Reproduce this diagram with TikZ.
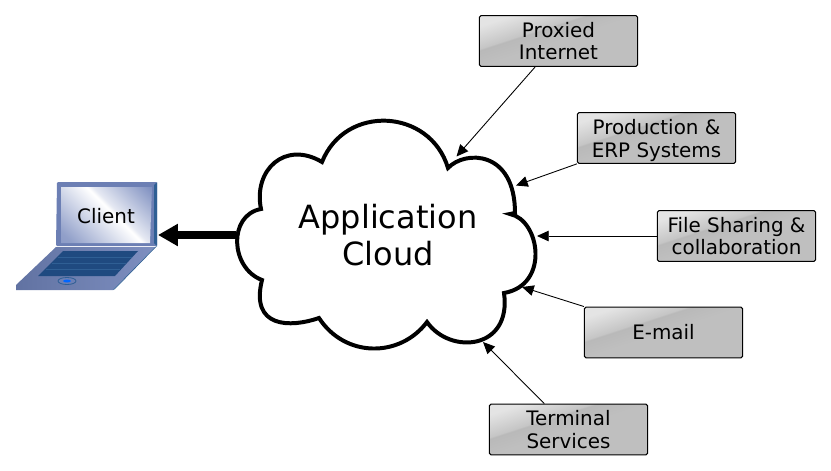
\documentclass[tikz,border=0pt]{standalone}
\usepackage{fontspec}
\setmainfont{DejaVu Sans}
\usetikzlibrary{arrows.meta}

\definecolor{boxgray}{HTML}{BFBFBF}
\definecolor{boxdark}{HTML}{B9B9B9}
\definecolor{boxlight}{HTML}{E4E4E4}
\definecolor{lapblue}{HTML}{7E8FC0}
\definecolor{lapbody}{HTML}{6C7FB4}
\definecolor{lapdark}{HTML}{2F5F94}
\definecolor{lapkeys}{HTML}{1F4A80}
\pgfdeclareverticalshading{boxshade}{100bp}{color(0bp)=(boxgray); color(50bp)=(boxgray); color(60bp)=(boxdark); color(61bp)=(boxgray!90!white); color(75bp)=(boxlight); color(100bp)=(boxlight)}
\pgfdeclareverticalshading{screenshade}{100bp}{color(0bp)=(lapblue); color(20bp)=(lapblue!85); color(54bp)=(white); color(57bp)=(lapblue!20); color(85bp)=(lapblue); color(100bp)=(lapblue)}

\tikzset{
  service/.style={draw=black,line width=0.85pt,rounded corners=1.5pt,minimum width=135pt,
    minimum height=43.5pt,inner sep=0pt,align=center,font=\fontsize{17pt}{19.5pt}\selectfont,
    shading=boxshade,shading angle=18},
  feed/.style={draw=black,line width=0.75pt,-{Triangle[length=10pt,width=9pt]}}
}

\begin{document}
\begin{tikzpicture}[x=0.03cm,y=-0.03cm]
  \useasboundingbox (0,0) rectangle (831,471);
  % cloud
  \draw[line width=3.4pt,fill=white,line join=miter]
    (261,209) .. controls (253,170) and (285,140) .. (322,162)
    .. controls (345,104) and (430,108) .. (448,168)
    .. controls (465,150) and (515,150) .. (515,213) -- (510,214)
    .. controls (540,220) and (550,285) .. (504,293)
    .. controls (512,350) and (450,355) .. (427,322)
    .. controls (400,358) and (345,358) .. (319,318)
    .. controls (290,328) and (250,328) .. (262,280)
    .. controls (230,268) and (228,215) .. (261,209) -- cycle;
  \node[align=center,font=\fontsize{27.3pt}{32pt}\selectfont] (appcloud) at (388,235) {Application\\Cloud};

  % laptop
  \fill[lapbody,rounded corners=1pt] (56,246) -- (57,182) -- (157,182) -- (157,246) -- cycle;
  \fill[lapdark] (154,185) -- (157,182) -- (157,246) -- (154,243) -- cycle;
  \shade[shading=screenshade,shading angle=-45] (61,187) -- (152,187) -- (150,243) -- (61,243) -- cycle;
  \shade[left color=lapbody!90!black,right color=lapblue] (56,247) -- (155,247) -- (113,290) -- (16,290) -- (16,285) -- cycle;
  \fill[lapdark] (155,247) -- (157,246) -- (115,289) -- (113,290) -- cycle;
  \fill[lapkeys] (63,251) -- (138,251) -- (115,276) -- (38,276) -- cycle;
  \foreach \ky/\kx in {257/58,263/52,269/46}
    \draw[lapdark,line width=0.8pt] (\kx,\ky) -- (\kx+74,\ky);
  \draw[lapdark,fill=lapbody,line width=0.7pt] (67,281) ellipse (9 and 3.5);
  \fill[blue!60!cyan] (67,281) ellipse (4 and 1.5);
  \node[font=\fontsize{17pt}{19.5pt}\selectfont] (client) at (106,216) {Client};

  % services
  \node[service] (proxied) at (558.5,41) {Proxied\\Internet};
  \node[service] (production) at (656.5,138) {\rule{0pt}{17pt}Production \&\\ERP Systems};
  \node[service] (filesharing) at (736.5,236) {File Sharing \&\\collaboration};
  \node[service] (email) at (663.5,332.5) {E-mail};
  \node[service] (terminal) at (568.5,429.5) {Terminal\\Services};

  \coordinate (cloudtop) at (456.5,156.5);
  \coordinate (cloudprod) at (516,185.5);
  \coordinate (cloudfile) at (537,236);
  \coordinate (cloudmail) at (522,287);
  \coordinate (cloudterm) at (483,342);
  \coordinate (cloudout) at (236,235);
  \coordinate (clientin) at (158,235);

  \draw[feed] (proxied.-132) -- (cloudtop);
  \draw[feed] (production.-162) -- (cloudprod);
  \draw[feed] (filesharing.west) -- (cloudfile);
  \draw[feed] (email.north west) -- (cloudmail);
  \draw[feed] (terminal.133) -- (cloudterm);
  \draw[line width=6pt,-{Triangle[length=17pt,width=18pt]}] (cloudout) -- (clientin);
\end{tikzpicture}
\end{document}
